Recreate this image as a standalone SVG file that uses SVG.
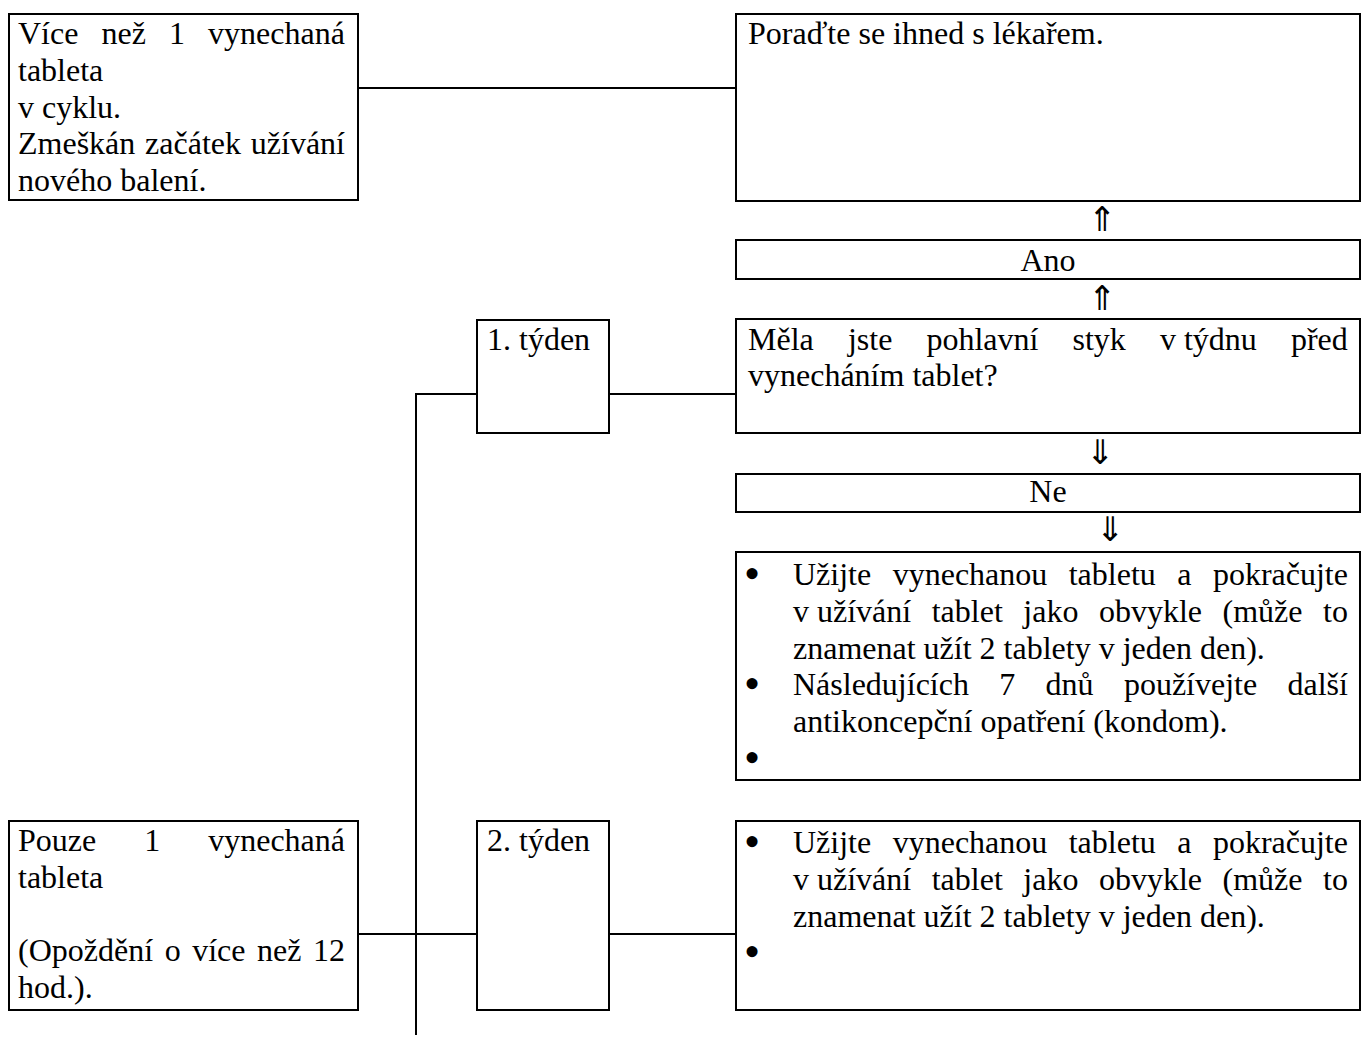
<svg xmlns="http://www.w3.org/2000/svg" width="1371" height="1039" viewBox="0 0 1371 1039">
<style>
.box{fill:#fff;stroke:#000;stroke-width:2}
.t{font-family:"Liberation Serif","Times New Roman",serif;font-size:32px;fill:#000}
.b{font-family:"Liberation Serif","Times New Roman",serif;font-size:46px;fill:#000}
.mid{text-anchor:middle}
.c{stroke:#000;stroke-width:2;fill:none}
.arr{font-family:"DejaVu Sans",sans-serif;font-size:34px;fill:#000;text-anchor:middle}
</style>
<rect width="1371" height="1039" fill="#fff"/>
<g id="connectors">
<line class="c" x1="358" y1="88" x2="736" y2="88"/>
<line class="c" x1="609" y1="394" x2="736" y2="394"/>
<polyline class="c" points="476,394 416,394 416,1035"/>
<line class="c" x1="358" y1="934" x2="476" y2="934"/>
<line class="c" x1="609" y1="934" x2="736" y2="934"/>
<text class="arr" x="1102" y="231">⇑</text>
<text class="arr" x="1102" y="310">⇑</text>
<text class="arr" x="1100" y="464">⇓</text>
<text class="arr" x="1110" y="541">⇓</text>
</g>
<g id="node-vice">
<rect class="box" x="9" y="14" width="349" height="186"/>
<text class="t" y="44"><tspan x="18">Více</tspan><tspan x="101.5">než</tspan><tspan x="169">1</tspan><tspan x="208.1">vynechaná</tspan></text>
<text class="t" x="18" y="80.8">tableta</text>
<text class="t" x="18" y="117.6">v cyklu.</text>
<text class="t" y="154.4"><tspan x="18">Zmeškán</tspan><tspan x="145.1">začátek</tspan><tspan x="250.8">užívání</tspan></text>
<text class="t" x="18" y="191.2">nového balení.</text>
</g>
<g id="node-lekar">
<rect class="box" x="736" y="14" width="624" height="187"/>
<text class="t" x="748" y="44">Poraďte se ihned s lékařem.</text>
</g>
<g id="node-ano">
<rect class="box" x="736" y="240" width="624" height="39"/>
<text class="t mid" x="1048" y="271">Ano</text>
</g>
<g id="node-mela">
<rect class="box" x="736" y="319" width="624" height="114"/>
<text class="t" y="350"><tspan x="748">Měla</tspan><tspan x="847.9">jste</tspan><tspan x="926.4">pohlavní</tspan><tspan x="1072.5">styk</tspan><tspan x="1159.9">v týdnu</tspan><tspan x="1290.9">před</tspan></text>
<text class="t" x="748" y="386">vynecháním tablet?</text>
</g>
<g id="node-ne">
<rect class="box" x="736" y="474" width="624" height="38"/>
<text class="t mid" x="1048" y="502">Ne</text>
</g>
<g id="node-postup1">
<rect class="box" x="736" y="552" width="624" height="228"/>
<text class="b" x="744" y="589">•</text>
<text class="t" y="585"><tspan x="793">Užijte</tspan><tspan x="892.7">vynechanou</tspan><tspan x="1068.7">tabletu</tspan><tspan x="1177.3">a</tspan><tspan x="1212.9">pokračujte</tspan></text>
<text class="t" y="621.8"><tspan x="793">v užívání</tspan><tspan x="931.7">tablet</tspan><tspan x="1023.3">jako</tspan><tspan x="1098.9">obvykle</tspan><tspan x="1222.5">(může</tspan><tspan x="1323.1">to</tspan></text>
<text class="t" x="793" y="658.6">znamenat užít 2 tablety v jeden den).</text>
<text class="b" x="744" y="699.4">•</text>
<text class="t" y="695.4"><tspan x="793">Následujících</tspan><tspan x="999.3">7</tspan><tspan x="1045.6">dnů</tspan><tspan x="1123.9">používejte</tspan><tspan x="1287.5">další</tspan></text>
<text class="t" x="793" y="732.2">antikoncepční opatření (kondom).</text>
<text class="b" x="744" y="773">•</text>
</g>
<g id="node-tyden1">
<rect class="box" x="477" y="320" width="132" height="113"/>
<text class="t" x="487" y="350">1. týden</text>
</g>
<g id="node-pouze">
<rect class="box" x="9" y="821" width="349" height="189"/>
<text class="t" y="851"><tspan x="18">Pouze</tspan><tspan x="144.2">1</tspan><tspan x="208.2">vynechaná</tspan></text>
<text class="t" x="18" y="887.8">tableta</text>
<text class="t" y="961.4"><tspan x="18">(Opoždění</tspan><tspan x="164.7">o</tspan><tspan x="192.2">více</tspan><tspan x="257">než</tspan><tspan x="313">12</tspan></text>
<text class="t" x="18" y="998.2">hod.).</text>
</g>
<g id="node-tyden2">
<rect class="box" x="477" y="821" width="132" height="189"/>
<text class="t" x="487" y="851">2. týden</text>
</g>
<g id="node-postup2">
<rect class="box" x="736" y="821" width="624" height="189"/>
<text class="b" x="744" y="857">•</text>
<text class="t" y="853"><tspan x="793">Užijte</tspan><tspan x="892.7">vynechanou</tspan><tspan x="1068.7">tabletu</tspan><tspan x="1177.3">a</tspan><tspan x="1212.9">pokračujte</tspan></text>
<text class="t" y="889.8"><tspan x="793">v užívání</tspan><tspan x="931.7">tablet</tspan><tspan x="1023.3">jako</tspan><tspan x="1098.9">obvykle</tspan><tspan x="1222.5">(může</tspan><tspan x="1323.1">to</tspan></text>
<text class="t" x="793" y="926.6">znamenat užít 2 tablety v jeden den).</text>
<text class="b" x="744" y="967.4">•</text>
</g>
</svg>
